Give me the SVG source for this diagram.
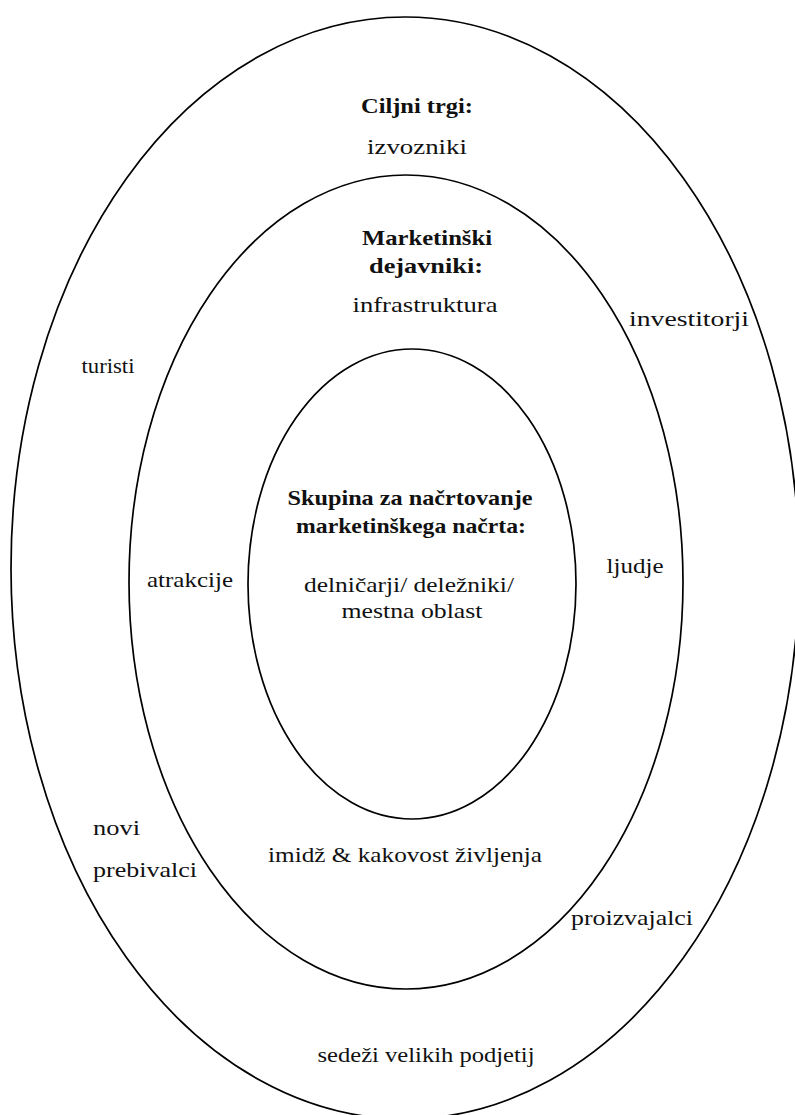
<svg xmlns="http://www.w3.org/2000/svg" width="795" height="1115" viewBox="0 0 795 1115">
  <style>
    .ring { fill: none; stroke: #000; stroke-width: 1.7; }
    text { font-family: "Liberation Serif", "Times New Roman", serif; font-size: 22px; fill: #111; }
    .c { text-anchor: middle; }
    .b { font-weight: bold; }
  </style>
  <rect x="0" y="0" width="795" height="1115" fill="#fff"/>

  <!-- outer ring: target markets -->
  <g id="target-markets">
    <ellipse class="ring" cx="405" cy="568" rx="394" ry="551"/>
    <text class="c b" x="417" y="113" textLength="112" lengthAdjust="spacingAndGlyphs">Ciljni trgi:</text>
    <text class="c" x="417" y="154" textLength="100" lengthAdjust="spacingAndGlyphs">izvozniki</text>
    <text class="c" x="689" y="326" textLength="120" lengthAdjust="spacingAndGlyphs">investitorji</text>
    <text class="c" x="108" y="373" textLength="53" lengthAdjust="spacingAndGlyphs">turisti</text>
    <text x="93" y="835" textLength="47" lengthAdjust="spacingAndGlyphs">novi</text>
    <text x="93" y="877" textLength="104" lengthAdjust="spacingAndGlyphs">prebivalci</text>
    <text class="c" x="632" y="925" textLength="122" lengthAdjust="spacingAndGlyphs">proizvajalci</text>
    <text class="c" x="426" y="1062" textLength="217" lengthAdjust="spacingAndGlyphs">sedeži velikih podjetij</text>
  </g>

  <!-- middle ring: marketing factors -->
  <g id="marketing-factors">
    <ellipse class="ring" cx="406" cy="582" rx="277" ry="407"/>
    <text class="c b" x="427" y="245" textLength="130" lengthAdjust="spacingAndGlyphs">Marketinški</text>
    <text class="c b" x="426" y="273" textLength="114" lengthAdjust="spacingAndGlyphs">dejavniki:</text>
    <text class="c" x="425" y="312" textLength="145" lengthAdjust="spacingAndGlyphs">infrastruktura</text>
    <text class="c" x="190" y="587" textLength="86" lengthAdjust="spacingAndGlyphs">atrakcije</text>
    <text class="c" x="635" y="573" textLength="57" lengthAdjust="spacingAndGlyphs">ljudje</text>
    <text class="c" x="405" y="862" textLength="274" lengthAdjust="spacingAndGlyphs">imidž &amp; kakovost življenja</text>
  </g>

  <!-- inner ring: planning group -->
  <g id="planning-group">
    <ellipse class="ring" cx="412" cy="584" rx="164" ry="235"/>
    <text class="c b" x="410" y="505" textLength="245" lengthAdjust="spacingAndGlyphs">Skupina za načrtovanje</text>
    <text class="c b" x="411" y="533" textLength="230" lengthAdjust="spacingAndGlyphs">marketinškega načrta:</text>
    <text class="c" x="409" y="592" textLength="210" lengthAdjust="spacingAndGlyphs">delničarji/ deležniki/</text>
    <text class="c" x="412" y="618" textLength="141" lengthAdjust="spacingAndGlyphs">mestna oblast</text>
  </g>
</svg>
